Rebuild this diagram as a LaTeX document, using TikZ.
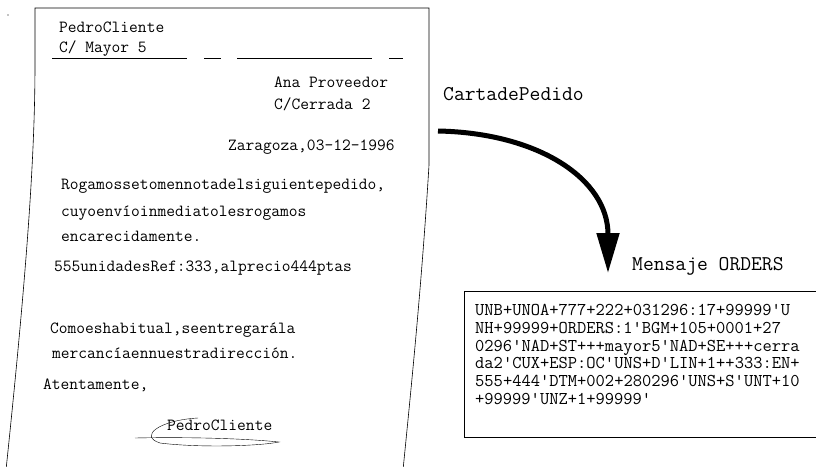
\documentclass[tikz,border=0pt]{standalone}
\usepackage{fontspec}
\usetikzlibrary{arrows.meta}
\newcommand\lettermono{\ttfamily}

\begin{document}
\begin{tikzpicture}[x=1pt,y=-1pt]

      \useasboundingbox (0,0) rectangle (816,466);

      \draw[line width=0.6pt] (6,470) .. controls (28,260) and (35,150) .. (35,63)
        -- (35,8) -- (429,8) -- (429,165) .. controls (422,280) and (412,380) .. (403,470);
      \fill (8,15) circle (0.6pt);

      \draw (52,58) -- (187,58);
      \draw (204,58) -- (221,58);
      \draw (237,58) -- (372,58);
      \draw (389,58) -- (403,58);

      \begin{scope}[every node/.style={anchor=base west,inner sep=0pt,
          font=\lettermono\fontsize{17}{17}\selectfont}]
        \node (sender)    at (59,32)   {PedroCliente};
        \node (senderst)  at (59,52)   {C/ Mayor 5};
        \node (supplier)  at (274,87)  {Ana Proveedor};
        \node (supplst)   at (274,109) {C/Cerrada 2};
        \node (date)      at (228,150) {Zaragoza,03-12-1996};
        \node (body1)     at (61,189)  {Rogamossetomennotadelsiguientepedido,};
        \node (body2)     at (61,216)  {cuyoenvíoinmediatolesrogamos};
        \node (body3)     at (61,241)  {encarecidamente.};
        \node (item)      at (54,271)  {555unidadesRef:333,alprecio444ptas};
        \node (body4)     at (50,333)  {Comoeshabitual,seentregarála};
        \node (body5)     at (52,358)  {mercancíaennuestradirección.};
        \node (greeting)  at (43,389)  {Atentamente,};
        \node (signature) at (167,430) {PedroCliente};
      \end{scope}

      \draw (198,418) .. controls (160,420) and (138,436) .. (160,443)
        .. controls (200,448) and (260,446) .. (279,442)
        .. controls (240,438) and (180,437) .. (135,438);

      \begin{scope}[every node/.style={anchor=base west,inner sep=0pt,
          font=\lettermono\fontsize{21}{21}\selectfont}]
        \node (letterlabel) at (443,100) {CartadePedido};
        \node (msglabel)    at (632,270) {Mensaje ORDERS};
      \end{scope}

      \coordinate (letterout) at (438,131);
      \coordinate (msgin) at (608,273);
      \draw[line width=5pt,-{Triangle[length=40pt,width=22pt]}]
        (letterout) .. controls (540,133) and (608,180) .. (msgin);

      \draw (464,291) rectangle (818,437);
      \node (orders) [anchor=north west,align=left,inner sep=0pt,
          font=\lettermono\fontsize{18}{17.8}\selectfont] at (475,304)
        {UNB+UNOA+777+222+031296:17+99999'U\\
         NH+99999+ORDERS:1'BGM+105+0001+27\\
         0296'NAD+ST+++mayor5'NAD+SE+++cerra\\
         da2'CUX+ESP:OC'UNS+D'LIN+1++333:EN+\\
         555+444'DTM+002+280296'UNS+S'UNT+10\\
         +99999'UNZ+1+99999'};

    \end{tikzpicture}
\end{document}
